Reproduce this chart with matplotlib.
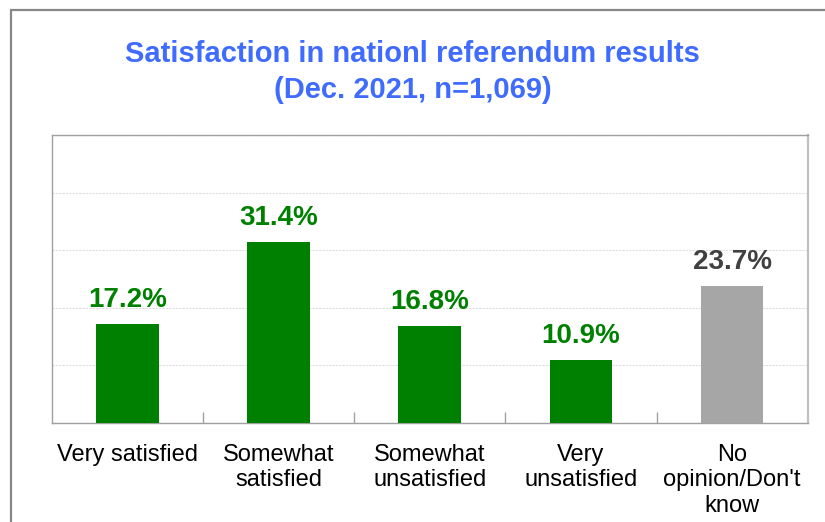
import matplotlib
matplotlib.use("Agg")
import matplotlib.pyplot as plt
from matplotlib.patches import Rectangle
from matplotlib.ticker import MultipleLocator

categories = ["Very satisfied", "Somewhat\nsatisfied", "Somewhat\nunsatisfied",
              "Very\nunsatisfied", "No\nopinion/Don't\nknow"]
values = [17.2, 31.4, 16.8, 10.9, 23.7]
labels = ["17.2%", "31.4%", "16.8%", "10.9%", "23.7%"]
bar_colors = ["#008000", "#008000", "#008000", "#008000", "#A6A6A6"]
label_colors = ["#008000", "#008000", "#008000", "#008000", "#404040"]
title_lines = ["Satisfaction in nationl referendum results", "(Dec. 2021, n=1,069)"]

plt.rcParams['font.family'] = ['Liberation Sans', 'DejaVu Sans']

W, H = 825, 522
fig = plt.figure(figsize=(W / 100, H / 100), dpi=100)
fig.patch.set_facecolor("white")

# outer border (cut at right/bottom)
fig.patches.append(Rectangle((10.5 / W, -0.2), 1.5, 1.2 - 9.7 / H,
                             transform=fig.transFigure, fill=False,
                             edgecolor="#888888", linewidth=1.6))

ax = fig.add_axes([51.7 / W, 1 - 423 / H, (807.7 - 51.7) / W, (423 - 135) / H])
x = list(range(len(categories)))
ax.bar(x, values, width=0.414, color=bar_colors, zorder=3)
ax.set_xlim(-0.5, len(categories) - 0.5)
ax.set_ylim(0, 50)
ax.yaxis.set_major_locator(MultipleLocator(10))
ax.grid(axis="y", color="#DDDDDD", linestyle=(0, (2, 1)), linewidth=0.8, zorder=0)
ax.tick_params(axis="y", left=False, labelleft=False)

ax.set_xticks(x)
ax.set_xticklabels(categories, fontsize=17, linespacing=1.2, color="black")
ax.tick_params(axis="x", which="major", length=0, pad=15)
ax.set_xticks([i + 0.5 for i in range(len(categories) - 1)], minor=True)
ax.tick_params(axis="x", which="minor", direction="in", length=8,
               color="#A0A0A0", width=1)

for s in ax.spines.values():
    s.set_color("#A0A0A0")
    s.set_linewidth(1.0)
ax.spines["right"].set_linewidth(1.6)
ax.spines["right"].set_color("#C0C0C0")

for xi, v, lab, c in zip(x, values, labels, label_colors):
    ax.annotate(lab, (xi, v), xytext=(0, 8), textcoords="offset points",
                ha="center", va="bottom", fontsize=20, fontweight="bold", color=c)

fig.text(0.5, 1 - 54 / H, title_lines[0], ha="center", va="center",
         fontsize=21, fontweight="bold", color="#3F6BFF")
fig.text(0.5, 1 - 90 / H, title_lines[1], ha="center", va="center",
         fontsize=21, fontweight="bold", color="#3F6BFF")

fig.savefig("out.png", dpi=100)
